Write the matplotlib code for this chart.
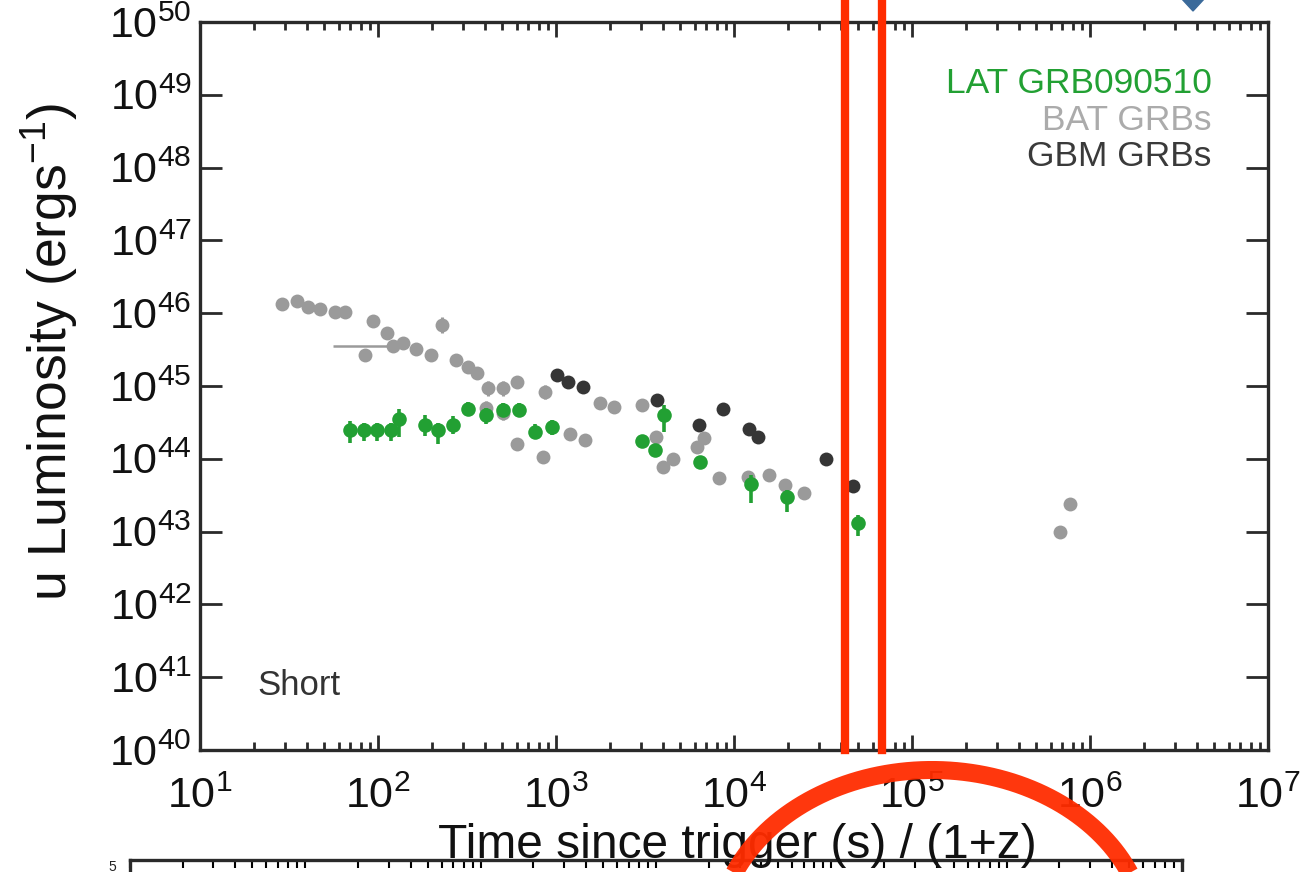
import numpy as np
import matplotlib
matplotlib.use("Agg")
import matplotlib.pyplot as plt
from matplotlib.ticker import FixedLocator, FuncFormatter, LogLocator, NullLocator
from matplotlib.patches import Polygon

plt.rcParams['font.family'] = ['Liberation Sans', 'DejaVu Sans']
plt.rcParams['mathtext.fontset'] = 'custom'
plt.rcParams['mathtext.rm'] = 'Liberation Sans'
plt.rcParams['mathtext.it'] = 'Liberation Sans'

# Swift/BAT short GRBs: rest-frame time (s) and luminosity (erg/s)
bat_t = [28.8, 34.9, 40.4, 47.2, 57.3, 65.3, 84.5, 93.3, 112, 121, 138, 163, 199, 228,
         273, 321, 358, 404, 415, 504, 505, 601, 867, 601, 849, 1199, 1456, 1766, 2118,
         3027, 3648, 3990, 4541, 6166, 6776, 8240, 11990, 15740, 19360, 24730,
         678000, 773000]
bat_L = [1.35e46, 1.45e46, 1.23e46, 1.15e46, 1.05e46, 1.05e46, 2.7e45, 7.9e45, 5.4e45,
         3.5e45, 3.9e45, 3.2e45, 2.7e45, 6.9e45, 2.3e45, 1.8e45, 1.5e45, 5.0e44, 9.3e44,
         9.3e44, 4.3e44, 1.15e45, 8.3e44, 1.6e44, 1.07e44, 2.2e44, 1.8e44, 5.9e44, 5.2e44,
         5.4e44, 2.0e44, 7.8e43, 1.0e44, 1.45e44, 1.95e44, 5.5e43, 5.6e43, 6.0e43,
         4.4e43, 3.4e43, 1.0e43, 2.4e43]
bat_err = [0, 0, 0, 0, 0, 0, 0.07, 0, 0, 0, 0, 0, 0, 0.11, 0, 0, 0, 0.1, 0.1, 0.1, 0.1,
           0, 0.1, 0, 0, 0, 0, 0, 0, 0, 0, 0, 0, 0, 0, 0, 0, 0, 0, 0, 0, 0]
# one early BAT point carries a long time bin
bat_bin_t = [121]
bat_bin_L = [3.5e45]
bat_bin_start = [56]

# Fermi/GBM short GRBs
gbm_t = [1010, 1167, 1419, 3683, 6353, 8643, 12130, 13640, 32880, 46450]
gbm_L = [1.41e45, 1.15e45, 9.8e44, 6.5e44, 2.9e44, 4.8e44, 2.6e44, 2.0e44, 1.0e44, 4.2e43]

# LAT-detected GRB 090510
lat_t = [69.7, 83.4, 99.1, 117.8, 131.3, 183.7, 218.3, 265, 321, 402.5, 505.8, 619.6,
         762, 945, 3027, 3597, 4046, 6442, 12470, 19770, 49890]
lat_L = [2.5e44, 2.5e44, 2.5e44, 2.45e44, 3.5e44, 2.9e44, 2.45e44, 2.9e44, 4.8e44,
         4.0e44, 4.7e44, 4.7e44, 2.35e44, 2.7e44, 1.75e44, 1.3e44, 4.0e44, 8.9e43,
         4.5e43, 2.95e43, 1.3e43]
lat_err_lo = [0.18, 0.15, 0.15, 0.15, 0.24, 0.15, 0.18, 0.12, 0.1, 0.12, 0.1, 0.1, 0.1,
              0.1, 0.08, 0.08, 0.23, 0.08, 0.26, 0.2, 0.18]
lat_err_hi = [0.12, 0.1, 0.1, 0.1, 0.14, 0.14, 0.1, 0.12, 0.1, 0.1, 0.1, 0.1, 0.1, 0.1,
              0.08, 0.08, 0.14, 0.08, 0.12, 0.1, 0.11]

# marked epochs
mark_t = [4.2e4, 6.8e4]

x_decades = [1, 2, 3, 4, 5, 6, 7]
y_decades = [40, 41, 42, 43, 44, 45, 46, 47, 48, 49, 50]

c_lat = '#22a033'
c_bat = '#9a9a9a'
c_gbm = '#353535'
c_red = '#ff2c00'
c_axis = '#2a2a2a'


def dex_to_abs(vals, lo, hi):
    vals = np.asarray(vals, dtype=float)
    return [vals - vals / 10 ** np.asarray(lo), vals * 10 ** np.asarray(hi) - vals]


fig = plt.figure(figsize=(13.11, 8.72), dpi=100)

# top edge of the next panel below (drawn first, transparent)
ax2 = fig.add_axes([0.099, -0.5, 0.8026, 0.5138])
ax2.patch.set_visible(False)
ax2.set_xscale('log')
ax2.set_xlim(10, 1e7)
ax2.xaxis.set_minor_locator(LogLocator(base=10, subs=np.arange(2, 10), numticks=20))
ax2.tick_params(which='both', direction='in', top=True, bottom=False, labelbottom=False,
                left=False, labelleft=False, length=6, width=1.5)
for s in ax2.spines.values():
    s.set_linewidth(2.4)
    s.set_color(c_axis)

ax = fig.add_axes([0.1526, 0.1399, 0.8146, 0.8349])
ax.set_xscale('log')
ax.set_yscale('log')
ax.set_xlim(10.0 ** x_decades[0], 10.0 ** x_decades[-1])
ax.set_ylim(10.0 ** y_decades[0], 10.0 ** y_decades[-1])

ax.errorbar(bat_t, bat_L, yerr=dex_to_abs(bat_L, bat_err, bat_err), fmt='o', ms=10,
            color=c_bat, mec='none', elinewidth=2.2, capsize=0, zorder=2)
ax.errorbar(bat_bin_t, bat_bin_L,
            xerr=[np.subtract(bat_bin_t, bat_bin_start), [0]], fmt='none',
            ecolor=c_bat, elinewidth=1.8, capsize=0, zorder=2)
ax.plot(gbm_t, gbm_L, 'o', ms=10, color=c_gbm, mec='none', zorder=3)
ax.errorbar(lat_t, lat_L, yerr=dex_to_abs(lat_L, lat_err_lo, lat_err_hi), fmt='o', ms=10.5,
            color=c_lat, mec='none', elinewidth=2.6, capsize=0, zorder=4)

for t in mark_t:
    ax.axvline(t, ymin=0, ymax=1.031, color=c_red, lw=6, clip_on=False, zorder=6)

ax.xaxis.set_major_locator(FixedLocator([10.0 ** d for d in x_decades]))
ax.xaxis.set_minor_locator(LogLocator(base=10, subs=np.arange(2, 10), numticks=20))
ax.yaxis.set_major_locator(FixedLocator([10.0 ** d for d in y_decades]))
ax.yaxis.set_minor_locator(NullLocator())
fmt = FuncFormatter(lambda v, p: r'$\mathdefault{10^{%d}}$' % round(np.log10(v)))
ax.xaxis.set_major_formatter(fmt)
ax.yaxis.set_major_formatter(fmt)

ax.tick_params(which='both', direction='in', top=True, right=True, colors=c_axis,
               labelcolor='#111111', labelsize=31)
ax.tick_params(axis='x', which='major', length=11, width=2, pad=19)
ax.tick_params(axis='x', which='minor', length=6, width=2)
ax.tick_params(axis='y', which='major', length=16, width=2, pad=6)
for s in ax.spines.values():
    s.set_linewidth(2.4)
    s.set_color(c_axis)

ax.set_xlabel('Time since trigger (s) / (1+z)', fontsize=34.5, color='#111111')
ax.xaxis.set_label_coords(0.503, -0.1)
ax.set_ylabel(r'u Luminosity (ergs$^{-1}$)', fontsize=38.5, color='#111111')
ax.yaxis.set_label_coords(-0.112, 0.547)

ax.text(0.947, 0.915, 'LAT GRB090510', transform=ax.transAxes, ha='right', va='center',
        fontsize=25.5, color=c_lat)
ax.text(0.947, 0.864, 'BAT GRBs', transform=ax.transAxes, ha='right', va='center',
        fontsize=25.5, color='#ababab')
ax.text(0.947, 0.815, 'GBM GRBs', transform=ax.transAxes, ha='right', va='center',
        fontsize=25.5, color='#3a3a3a')
ax.text(0.054, 0.088, 'Short', transform=ax.transAxes, ha='left', va='center',
        fontsize=25, color='#333333')

# hand-drawn overlay in pixel space
ov = fig.add_axes([0, 0, 1, 1], facecolor='none')
ov.set_xlim(0, 1311)
ov.set_ylim(872, 0)
ov.axis('off')
theta = np.linspace(np.pi * 0.92, np.pi * 0.08, 240)
arc_x = 932 + 215 * np.cos(theta)
arc_y = 940 - 170 * np.sin(theta)
ov.plot(arc_x, arc_y, color=c_red, lw=13, solid_capstyle='butt', alpha=0.95, zorder=5)
ov.add_patch(Polygon([[1181, -2], [1193, 11], [1205, -2], [1193, -14]],
                     closed=True, color='#3b6a9a'))
ov.text(112, 860, '5', fontsize=10, ha='center', va='top', color='#222222')

fig.savefig('out.png', dpi=100)
